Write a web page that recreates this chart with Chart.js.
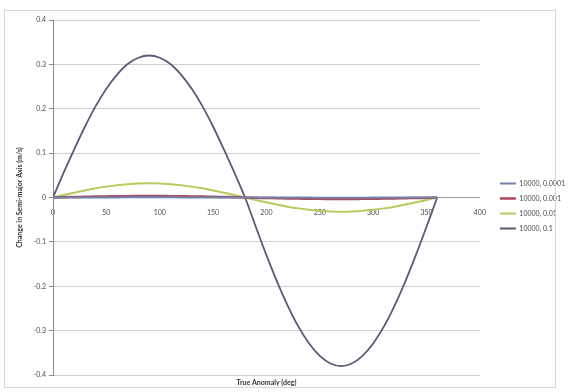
<!DOCTYPE html>
<html>
<head>
<meta charset="utf-8">
<script src="https://cdn.jsdelivr.net/npm/chart.js@4/dist/chart.umd.min.js"></script>
<style>
  html, body { margin: 0; padding: 0; background: #ffffff; }
  #wrap { position: relative; width: 568px; height: 392px; }
  #frame { position: absolute; left: 4px; top: 10px; width: 550px; height: 376px; border: 1px solid #d6d6d6; pointer-events: none; }
  canvas { position: absolute; left: 0; top: 0; }
</style>
</head>
<body>
<div id="wrap">
  <canvas id="c" width="568" height="392"></canvas>
  <div id="frame"></div>
</div>
<script>
// True anomaly, degrees
const anomaly = [0, 10, 20, 30, 40, 50, 60, 70, 80, 90, 100, 110, 120, 130, 140, 150, 160, 170, 180,
                 190, 200, 210, 220, 230, 240, 250, 260, 270, 280, 290, 300, 310, 320, 330, 340, 350, 360];

const seriesNames = ['10000, 0.0001', '10000, 0.001', '10000, 0.01', '10000, 0.1'];

// Change in semi-major axis for each case
const da_00001 = [0, 0.00006, 0.00011, 0.00016, 0.00021, 0.00025, 0.00028, 0.00030, 0.00032, 0.00032, 0.00032, 0.00030, 0.00028, 0.00025, 0.00021, 0.00016, 0.00011, 0.00006, 0,
                  -0.00006, -0.00011, -0.00016, -0.00021, -0.00025, -0.00028, -0.00030, -0.00032, -0.00032, -0.00032, -0.00030, -0.00028, -0.00025, -0.00021, -0.00016, -0.00011, -0.00006, 0];
const da_0001 = [0, 0.0006, 0.0011, 0.0016, 0.0021, 0.0025, 0.0028, 0.0030, 0.0032, 0.0032, 0.0032, 0.0030, 0.0028, 0.0025, 0.0021, 0.0016, 0.0011, 0.0006, 0,
                 -0.0006, -0.0011, -0.0016, -0.0021, -0.0025, -0.0028, -0.0030, -0.0032, -0.0032, -0.0032, -0.0030, -0.0028, -0.0025, -0.0021, -0.0016, -0.0011, -0.0006, 0];
const da_001 = [0, 0.0056, 0.0109, 0.0160, 0.0206, 0.0245, 0.0277, 0.0300, 0.0315, 0.0320, 0.0315, 0.0300, 0.0277, 0.0245, 0.0206, 0.0160, 0.0109, 0.0056, 0,
                -0.0056, -0.0109, -0.0160, -0.0206, -0.0245, -0.0277, -0.0300, -0.0315, -0.0320, -0.0315, -0.0300, -0.0277, -0.0245, -0.0206, -0.0160, -0.0109, -0.0056, 0];
const da_01 = [0, 0.056, 0.109, 0.160, 0.206, 0.245, 0.277, 0.301, 0.315, 0.320, 0.315, 0.301, 0.277, 0.245, 0.206, 0.160, 0.109, 0.056, 0,
               -0.066, -0.130, -0.190, -0.244, -0.291, -0.329, -0.357, -0.374, -0.380, -0.374, -0.357, -0.329, -0.291, -0.244, -0.190, -0.130, -0.066, 0];

const xTicks = [0, 50, 100, 150, 200, 250, 300, 350, 400];
const yTicks = [-0.4, -0.3, -0.2, -0.1, 0, 0.1, 0.2, 0.3, 0.4];

const seriesValues = [da_00001, da_0001, da_001, da_01];
const seriesColors = ['#7282aa', '#a84a5c', '#b8ca5e', '#5c5878'];
const seriesWidths = [2, 2.5, 2, 1.8];

const toPoints = vals => anomaly.map((a, i) => ({ x: a, y: vals[i] }));

// Nudge the legend further from the plot, towards the right edge
const legendNudge = {
  id: 'legendNudge',
  afterLayout(chart) {
    const lg = chart.legend;
    if (lg) { lg.left += 12; lg.right += 12; }
  }
};

Chart.defaults.font.family = 'Lato, "Open Sans", sans-serif';
Chart.defaults.font.size = 7;
Chart.defaults.color = '#4a4a4a';

new Chart(document.getElementById('c'), {
  type: 'line',
  data: {
    datasets: seriesNames.map((name, i) => ({
      label: name,
      data: toPoints(seriesValues[i]),
      borderColor: seriesColors[i],
      backgroundColor: seriesColors[i],
      borderWidth: seriesWidths[i],
      pointRadius: 0,
      pointStyle: 'line',
      tension: 0.3,
      xAxisID: 'x'
    }))
  },
  plugins: [legendNudge],
  options: {
    responsive: false,
    animation: false,
    layout: { padding: { left: 12, top: 20, right: 5, bottom: 0 } },
    plugins: {
      tooltip: { enabled: false },
      legend: {
        position: 'right',
        align: 'center',
        labels: {
          usePointStyle: true,
          pointStyleWidth: 16,
          padding: 8,
          color: '#4a4a4a',
          font: { size: 7 }
        }
      }
    },
    scales: {
      // bottom axis carries only the title
      x: {
        type: 'linear',
        position: 'bottom',
        min: 0,
        max: 400,
        ticks: { display: false },
        grid: { display: false, drawTicks: false },
        border: { display: false },
        title: {
          display: true,
          text: 'True Anomaly (deg)',
          font: { size: 7, weight: 'bold' },
          color: '#333',
          padding: { top: 2, bottom: 5 }
        },
        afterFit: s => { s.height = 17; }
      },
      // horizontal axis crossing at zero, with its labels
      x0: {
        type: 'linear',
        position: { y: 0 },
        min: 0,
        max: 400,
        afterBuildTicks: s => { s.ticks = xTicks.map(v => ({ value: v })); },
        ticks: { padding: 11, maxRotation: 0, autoSkip: false, color: '#4a4a4a' },
        grid: { display: false, drawTicks: false },
        border: { display: true, color: '#9a9a9a', width: 1 }
      },
      y: {
        type: 'linear',
        position: 'left',
        min: -0.4,
        max: 0.4,
        afterBuildTicks: s => { s.ticks = yTicks.map(v => ({ value: v })); },
        ticks: {
          padding: 3,
          color: '#4a4a4a',
          callback: v => String(Math.round(v * 10) / 10)
        },
        grid: { color: '#cfcfcf', lineWidth: 1, tickLength: 4, tickColor: '#8a8a8a' },
        border: { display: true, color: '#8a8a8a', width: 1 },
        title: {
          display: true,
          text: 'Change in Semi-major Axis (m/s)',
          font: { size: 7, weight: 'bold' },
          color: '#333',
          padding: { top: 4, bottom: 0 }
        },
        afterFit: s => { s.width = 41; }
      }
    }
  }
});
</script>
</body>
</html>
